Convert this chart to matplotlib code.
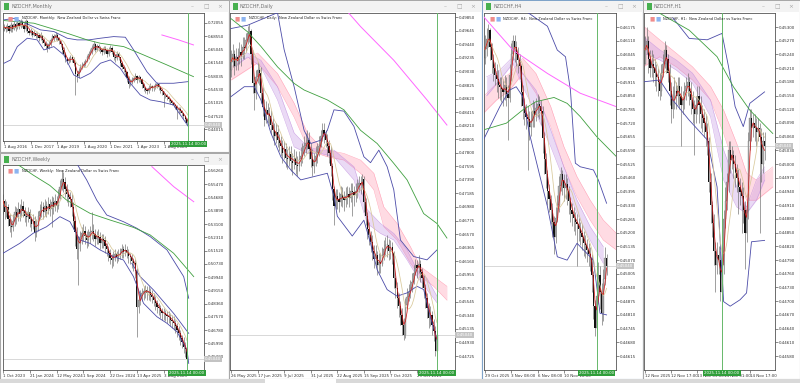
import numpy as np
import pandas as pd
import matplotlib
matplotlib.use("Agg")
import matplotlib.pyplot as plt
from matplotlib.patches import Rectangle
import matplotlib.transforms as mtrans

# ====================== DATA ======================
cur_price = 0.45040
cur_label = "0.45040"
sync_label = "2025.11.14 00:00"

# ---- Monthly ----
m_close = [0.710,0.705,0.712,0.700,0.715,0.705,0.718,0.708,0.720,0.712,
           0.722,0.715,0.705,0.725,0.700,0.695,0.700,0.690,0.695,0.685,
           0.690,0.680,0.688,0.675,0.668,0.660,0.655,0.665,0.675,0.685,
           0.680,0.690,0.680,0.672,0.665,0.650,0.640,0.625,0.620,0.622,
           0.630,0.625,0.615,0.585,0.580,0.595,0.605,0.610,0.612,0.620,
           0.630,0.640,0.645,0.655,0.665,0.650,0.660,0.655,0.650,0.645,
           0.655,0.650,0.640,0.650,0.655,0.645,0.630,0.628,0.640,0.630,
           0.615,0.605,0.600,0.590,0.575,0.560,0.565,0.570,0.575,0.580,
           0.570,0.578,0.572,0.560,0.548,0.545,0.540,0.550,0.555,0.548,
           0.552,0.556,0.560,0.552,0.545,0.540,0.530,0.530,0.525,0.520,
           0.515,0.510,0.505,0.502,0.490,0.495,0.488,0.482,0.475,0.468,
           0.458,0.4505]
m_high = [0.718,0.716,0.720,0.714,0.722,0.718,0.726,0.722,0.728,0.724,
          0.730,0.728,0.720,0.730,0.728,0.705,0.708,0.702,0.703,0.698,
          0.698,0.694,0.696,0.690,0.680,0.672,0.668,0.672,0.682,0.692,
          0.692,0.698,0.694,0.684,0.676,0.668,0.656,0.645,0.630,0.630,
          0.637,0.636,0.630,0.620,0.595,0.602,0.612,0.618,0.620,0.626,
          0.636,0.646,0.652,0.662,0.672,0.668,0.666,0.664,0.660,0.654,
          0.660,0.660,0.654,0.656,0.662,0.660,0.650,0.638,0.646,0.644,
          0.632,0.620,0.610,0.604,0.594,0.580,0.572,0.578,0.582,0.588,
          0.584,0.584,0.580,0.575,0.562,0.552,0.548,0.556,0.562,0.558,
          0.558,0.562,0.566,0.562,0.554,0.548,0.542,0.536,0.534,0.528,
          0.522,0.518,0.512,0.508,0.505,0.500,0.498,0.490,0.484,0.477,
          0.470,0.460]
m_low = [0.700,0.698,0.700,0.694,0.698,0.698,0.702,0.700,0.704,0.705,
         0.708,0.710,0.698,0.700,0.694,0.688,0.690,0.684,0.686,0.680,
         0.680,0.674,0.676,0.668,0.660,0.652,0.645,0.652,0.660,0.670,
         0.672,0.676,0.674,0.664,0.656,0.642,0.634,0.618,0.612,0.614,
         0.618,0.618,0.606,0.530,0.566,0.576,0.592,0.600,0.604,0.608,
         0.618,0.626,0.636,0.640,0.650,0.644,0.646,0.646,0.642,0.636,
         0.640,0.642,0.632,0.634,0.644,0.638,0.622,0.618,0.622,0.622,
         0.606,0.598,0.592,0.582,0.566,0.550,0.554,0.560,0.566,0.570,
         0.562,0.566,0.564,0.550,0.540,0.536,0.532,0.536,0.544,0.540,
         0.542,0.546,0.550,0.544,0.536,0.530,0.500,0.522,0.518,0.512,
         0.508,0.504,0.498,0.494,0.468,0.482,0.482,0.476,0.468,0.460,
         0.452,0.447]
m_open0 = 0.703
m_yticks = [0.72055,0.68550,0.65045,0.61540,0.58035,0.54530,0.51025,0.47520,0.44015]
m_xlabels = ["1 Aug 2016","1 Dec 2017","1 Apr 2019","1 Aug 2020","1 Dec 2021","1 Apr 2023","1 Aug 2024"]
m_xlabel_bars = [0,16,32,48,64,80,96]
m_green_x = [0,18,38,50,58,72,84,98,114]
m_green_y = [0.7270,0.7200,0.6935,0.6760,0.6671,0.6583,0.6363,0.6100,0.5791]
m_mag_x = [95,105,114]
m_mag_y = [0.689,0.676,0.6627]
m_bbu_x = [0,6,14,22,30,38,44,51,58,66,73,78,86,92,102,111]
m_bbu_y = [0.7288,0.733,0.718,0.7024,0.698,0.6804,0.676,0.676,0.6804,0.6847,0.683,0.6495,0.592,0.5616,0.5616,0.566]
m_bbl_x = [0,4,8,14,20,24,30,36,42,46,52,58,64,70,76,82,88,94,102,111]
m_bbl_y = [0.6144,0.6231,0.6583,0.6804,0.676,0.6495,0.6583,0.6363,0.5835,0.5747,0.588,0.6144,0.6231,0.601,0.5616,0.5307,0.5175,0.5131,0.5043,0.447]

# ---- Weekly ----
w_close = [0.545,0.538,0.541,0.534,0.530,0.529,0.533,0.538,0.535,0.540,
           0.537,0.542,0.539,0.536,0.535,0.538,0.534,0.531,0.533,0.5255,
           0.530,0.536,0.539,0.541,0.538,0.542,0.539,0.543,0.540,0.544,
           0.541,0.545,0.542,0.548,0.553,0.558,0.556,0.552,0.549,0.547,
           0.546,0.541,0.533,0.526,0.516,0.520,0.523,0.5255,0.527,0.524,
           0.5215,0.524,0.526,0.527,0.525,0.522,0.524,0.5235,0.520,0.522,
           0.5215,0.518,0.516,0.5136,0.511,0.5096,0.512,0.513,0.5116,0.513,
           0.514,0.516,0.5146,0.5156,0.514,0.512,0.5116,0.509,0.5076,0.503,
           0.4818,0.486,0.488,0.4898,0.491,0.492,0.490,0.4908,0.489,0.4878,
           0.486,0.484,0.4818,0.481,0.479,0.4778,0.478,0.477,0.476,0.4758,
           0.474,0.473,0.4719,0.470,0.4679,0.466,0.463,0.4609,0.4579,0.4565,
           0.4505]
w_high = [0.549,0.546,0.545,0.543,0.537,0.534,0.537,0.542,0.541,0.544,
          0.543,0.546,0.545,0.541,0.539,0.541,0.540,0.536,0.537,0.536,
          0.534,0.539,0.543,0.545,0.544,0.546,0.545,0.547,0.546,0.548,
          0.547,0.549,0.548,0.552,0.557,0.563,0.562,0.559,0.555,0.552,
          0.550,0.549,0.544,0.536,0.529,0.524,0.527,0.529,0.531,0.530,
          0.527,0.528,0.530,0.538,0.531,0.528,0.527,0.528,0.526,0.525,
          0.525,0.524,0.520,0.518,0.516,0.513,0.515,0.516,0.515,0.516,
          0.517,0.519,0.518,0.519,0.518,0.516,0.514,0.513,0.511,0.510,
          0.505,0.490,0.492,0.493,0.494,0.495,0.494,0.494,0.493,0.492,
          0.490,0.488,0.486,0.484,0.483,0.481,0.481,0.480,0.479,0.479,
          0.478,0.477,0.476,0.474,0.472,0.470,0.468,0.465,0.464,0.461,
          0.459]
w_low = [0.537,0.534,0.535,0.530,0.526,0.523,0.527,0.530,0.531,0.533,
         0.533,0.535,0.535,0.532,0.530,0.532,0.529,0.527,0.528,0.521,
         0.523,0.527,0.534,0.535,0.534,0.536,0.535,0.537,0.536,0.529,
         0.537,0.539,0.538,0.540,0.546,0.551,0.550,0.547,0.544,0.542,
         0.541,0.536,0.528,0.518,0.510,0.495,0.515,0.519,0.521,0.519,
         0.517,0.518,0.520,0.522,0.521,0.518,0.519,0.519,0.516,0.517,
         0.517,0.514,0.512,0.509,0.507,0.505,0.506,0.509,0.508,0.509,
         0.510,0.511,0.511,0.512,0.511,0.508,0.507,0.505,0.503,0.499,
         0.464,0.478,0.483,0.485,0.486,0.487,0.486,0.486,0.485,0.484,
         0.482,0.480,0.478,0.477,0.475,0.474,0.474,0.473,0.472,0.472,
         0.470,0.469,0.468,0.466,0.464,0.462,0.459,0.457,0.454,0.452,
         0.4470]
w_open0 = 0.542
w_yticks = [0.56260,0.55470,0.54680,0.53890,0.53100,0.52310,0.51520,0.50730,
            0.49940,0.49150,0.48360,0.47570,0.46780,0.45990,0.45200]
w_xlabels = ["1 Oct 2023","21 Jan 2024","12 May 2024","1 Sep 2024","22 Dec 2024","13 Apr 2025","3 Aug 2025"]
w_xlabel_bars = [0,16,32,48,64,80,96]
w_green_x = [2,18,28,38,52,64,78,88,102,114]
w_green_y = [0.5711,0.5602,0.554,0.5453,0.5374,0.5334,0.529,0.5245,0.5136,0.4997]
w_mag_x = [89,102,114]
w_mag_y = [0.5652,0.5533,0.5443]
w_bbu_x = [36,44,50,56,62,72,80,88,98,108,111]
w_bbu_y = [0.5751,0.5672,0.5573,0.5453,0.5364,0.5324,0.5285,0.5235,0.5156,0.4997,0.4868]
w_bbm_x = [77,82,90,102,111]
w_bbm_y = [0.5076,0.4997,0.4917,0.4778,0.4659]
w_bbl_x = [0,10,18,26,34,40,46,52,58,66,72,78,84,92,98,104,110,111]
w_bbl_y = [0.5136,0.5195,0.5255,0.5294,0.5354,0.5324,0.5215,0.5195,0.5156,0.5116,0.5096,0.4997,0.4838,0.4758,0.4719,0.4669,0.4560,0.4480]

# ---- Daily ----
d_close = [0.4918,0.4930,0.4912,0.4925,0.4920,0.4933,0.4928,0.4940,0.4938,0.4950,
           0.4962,0.4965,0.4930,0.4885,0.4870,0.4895,0.4905,0.4900,0.4870,0.4850,
           0.4830,0.4845,0.4838,0.4835,0.4822,0.4815,0.4805,0.4812,0.4800,0.4795,
           0.4790,0.4780,0.4785,0.4772,0.4770,0.4778,0.4768,0.4765,0.4772,0.4762,
           0.4760,0.4770,0.4775,0.4780,0.4790,0.4795,0.4800,0.4785,0.4770,0.4760,
           0.4768,0.4775,0.4780,0.4790,0.4805,0.4815,0.4808,0.4800,0.4790,0.4780,
           0.4760,0.4725,0.4700,0.4715,0.4710,0.4705,0.4718,0.4712,0.4708,0.4715,
           0.4718,0.4712,0.4722,0.4720,0.4716,0.4722,0.4728,0.4735,0.4732,0.4740,
           0.4705,0.4685,0.4665,0.4655,0.4645,0.4632,0.4620,0.4625,0.4610,0.4615,
           0.4612,0.4625,0.4635,0.4640,0.4640,0.4632,0.4638,0.4628,0.4590,0.4575,
           0.4560,0.4548,0.4535,0.4520,0.4505,0.4550,0.4562,0.4570,0.4575,0.4585,
           0.4598,0.4610,0.4605,0.4612,0.4600,0.4590,0.4575,0.4560,0.4545,0.4530,
           0.4535,0.4520,0.4510,0.4480,0.4504]
d_high = [0.4935,0.4945,0.4935,0.4938,0.4938,0.4948,0.4945,0.4955,0.4955,0.4962,
          0.4972,0.4975,0.4968,0.4935,0.4895,0.4905,0.4918,0.4915,0.4910,0.4880,
          0.4862,0.4858,0.4855,0.4850,0.4845,0.4832,0.4825,0.4825,0.4822,0.4808,
          0.4805,0.4800,0.4798,0.4795,0.4785,0.4790,0.4790,0.4780,0.4785,0.4782,
          0.4775,0.4782,0.4788,0.4795,0.4805,0.4810,0.4815,0.4812,0.4795,0.4785,
          0.4780,0.4790,0.4795,0.4805,0.4815,0.4825,0.4825,0.4815,0.4808,0.4800,
          0.4790,0.4765,0.4730,0.4725,0.4725,0.4720,0.4730,0.4728,0.4722,0.4728,
          0.4730,0.4728,0.4735,0.4735,0.4730,0.4735,0.4740,0.4745,0.4745,0.4748,
          0.4745,0.4712,0.4690,0.4675,0.4662,0.4655,0.4640,0.4640,0.4632,0.4628,
          0.4628,0.4638,0.4648,0.4652,0.4655,0.4650,0.4648,0.4645,0.4632,0.4598,
          0.4585,0.4568,0.4555,0.4545,0.4530,0.4560,0.4575,0.4582,0.4588,0.4598,
          0.4610,0.4620,0.4618,0.4625,0.4618,0.4605,0.4595,0.4582,0.4568,0.4552,
          0.4548,0.4540,0.4528,0.4518,0.4512]
d_low = [0.4895,0.4910,0.4898,0.4905,0.4905,0.4915,0.4912,0.4922,0.4922,0.4932,
         0.4945,0.4948,0.4915,0.4870,0.4844,0.4862,0.4885,0.4882,0.4855,0.4835,
         0.4820,0.4825,0.4825,0.4820,0.4808,0.4800,0.4792,0.4795,0.4788,0.4782,
         0.4775,0.4765,0.4770,0.4758,0.4755,0.4760,0.4752,0.4747,0.4755,0.4748,
         0.4745,0.4752,0.4760,0.4765,0.4775,0.4780,0.4785,0.4770,0.4758,0.4745,
         0.4750,0.4760,0.4765,0.4775,0.4788,0.4798,0.4795,0.4788,0.4775,0.4765,
         0.4745,0.4708,0.4670,0.4695,0.4695,0.4690,0.4700,0.4698,0.4692,0.4698,
         0.4702,0.4698,0.4705,0.4685,0.4700,0.4705,0.4712,0.4720,0.4718,0.4725,
         0.4690,0.4670,0.4650,0.4640,0.4630,0.4618,0.4605,0.4608,0.4595,0.4598,
         0.4598,0.4608,0.4618,0.4625,0.4622,0.4618,0.4620,0.4612,0.4575,0.4560,
         0.4545,0.4532,0.4520,0.4505,0.4497,0.4500,0.4545,0.4555,0.4560,0.4570,
         0.4582,0.4595,0.4590,0.4598,0.4585,0.4575,0.4560,0.4545,0.4530,0.4515,
         0.4518,0.4505,0.4495,0.4472,0.4478]
d_open0 = 0.4905
d_yticks = [0.49850,0.49645,0.49440,0.49235,0.49030,0.48825,0.48620,0.48415,0.48210,
            0.48005,0.47800,0.47595,0.47390,0.47185,0.46980,0.46775,0.46570,0.46365,
            0.46160,0.45955,0.45750,0.45545,0.45340,0.45135,0.44930,0.44725]
d_xlabels = ["26 May 2025","17 Jun 2025","9 Jul 2025","31 Jul 2025","22 Aug 2025","15 Sep 2025","7 Oct 2025","29 Oct 2025"]
d_xlabel_bars = [0,16,32,48,64,80,96,112]
d_green_x = [0,10,18,28,38,44,58,68,78,88,98,106,116,124,130]
d_green_y = [0.4983,0.4963,0.4941,0.4910,0.4885,0.4875,0.4860,0.4845,0.4814,0.4794,0.4764,0.4739,0.4688,0.4673,0.4651]
d_mag_x = [64,78,98,118,130]
d_mag_y = [0.5011,0.4971,0.4920,0.4860,0.4822]
d_bbu_x = [0,10,28,32,38,44,48,54,58,62,68,74,80,84,89,94,98,102,110,118,124]
d_bbu_y = [0.4968,0.4973,0.4992,0.4936,0.4880,0.4814,0.4794,0.4799,0.4814,0.4845,0.4843,0.4820,0.4774,0.4765,0.4784,0.4759,0.4724,0.4648,0.4623,0.4618,0.4633]
d_bbl_x = [0,8,14,18,24,30,36,42,50,58,62,64,73,80,84,88,94,100,106,112,116,120,124]
d_bbl_y = [0.4865,0.4880,0.4880,0.4860,0.4810,0.4774,0.4754,0.4739,0.4744,0.4749,0.4714,0.4684,0.4654,0.4678,0.4643,0.4603,0.4573,0.4563,0.4568,0.4578,0.4573,0.4532,0.4497]
d_pink_x = [0,16,28,38,46,52,58,68,78,86,92,100,108,114,122,130]
d_pink_top = [0.4910,0.4931,0.4900,0.4855,0.4810,0.4794,0.4784,0.4779,0.4769,0.4749,0.4698,0.4673,0.4638,0.4608,0.4593,0.4578]
d_pink_bot = [0.4890,0.4916,0.4880,0.4834,0.4789,0.4779,0.4774,0.4769,0.4749,0.4724,0.4668,0.4648,0.4613,0.4593,0.4578,0.4557]
d_purp_x = [2,10,18,28,38,46,54,62,74,82,90,98,106,112,118,124]
d_purp_top = [0.4925,0.4931,0.4920,0.4880,0.4810,0.4789,0.4784,0.4784,0.4759,0.4694,0.4673,0.4658,0.4633,0.4603,0.4590,0.4563]
d_purp_bot = [0.4910,0.4925,0.4910,0.4860,0.4789,0.4779,0.4779,0.4774,0.4739,0.4673,0.4658,0.4648,0.4618,0.4593,0.4573,0.4553]

# ---- H4 ----
h4_close = [0.4607,0.4612,0.4616,0.4608,0.4602,0.4598,0.4595,0.4593,0.4590,0.4589,
            0.4588,0.4587,0.4590,0.4586,0.4584,0.4595,0.4605,0.4611,0.4608,0.4605,
            0.4602,0.4599,0.4587,0.4580,0.4577,0.4575,0.4574,0.4570,0.4573,0.4578,
            0.4576,0.4579,0.4581,0.4580,0.4578,0.4565,0.4555,0.4548,0.4540,0.4536,
            0.4531,0.4525,0.4518,0.4527,0.4533,0.4542,0.4548,0.4545,0.4541,0.4543,
            0.4540,0.4535,0.4531,0.4529,0.4527,0.4525,0.4524,0.4522,0.4520,0.4518,
            0.4515,0.4514,0.4512,0.4510,0.4508,0.4500,0.4485,0.4475,0.4490,0.4500,
            0.4492,0.4482,0.4498,0.4508,0.4504]
h4_high = [0.4614,0.4617,0.4619,0.4617,0.4610,0.4605,0.4601,0.4600,0.4597,0.4594,
           0.4594,0.4593,0.4595,0.4594,0.4590,0.4600,0.4610,0.4614,0.4614,0.4611,
           0.4608,0.4605,0.4600,0.4590,0.4584,0.4581,0.4580,0.4578,0.4578,0.4583,
           0.4582,0.4584,0.4586,0.4585,0.4583,0.4580,0.4568,0.4558,0.4550,0.4543,
           0.4538,0.4534,0.4528,0.4532,0.4538,0.4547,0.4551,0.4550,0.4548,0.4548,
           0.4546,0.4542,0.4537,0.4534,0.4532,0.4530,0.4529,0.4527,0.4525,0.4524,
           0.4521,0.4519,0.4517,0.4515,0.4513,0.4510,0.4502,0.4488,0.4497,0.4506,
           0.4504,0.4496,0.4503,0.4513,0.4510]
h4_low = [0.4600,0.4604,0.4608,0.4602,0.4596,0.4592,0.4590,0.4587,0.4584,0.4583,
          0.4582,0.4580,0.4583,0.4580,0.4564,0.4582,0.4592,0.4602,0.4601,0.4599,
          0.4596,0.4593,0.4580,0.4574,0.4571,0.4569,0.4550,0.4564,0.4566,0.4570,
          0.4570,0.4573,0.4575,0.4574,0.4571,0.4558,0.4548,0.4541,0.4533,0.4530,
          0.4524,0.4518,0.4510,0.4515,0.4525,0.4530,0.4540,0.4538,0.4535,0.4536,
          0.4533,0.4529,0.4525,0.4523,0.4521,0.4519,0.4504,0.4516,0.4514,0.4512,
          0.4509,0.4508,0.4506,0.4504,0.4502,0.4492,0.4479,0.4471,0.4474,0.4486,
          0.4484,0.4476,0.4478,0.4495,0.4500]
h4_open0 = 0.4603
h4_yticks = [0.46175,0.46110,0.46045,0.45980,0.45915,0.45850,0.45785,0.45720,0.45655,
             0.45590,0.45525,0.45460,0.45395,0.45330,0.45265,0.45200,0.45135,0.45070,
             0.45005,0.44940,0.44875,0.44810,0.44745,0.44680,0.44615]
h4_xlabels = ["29 Oct 2025","3 Nov 08:00","6 Nov 08:00","10 Nov 16:00"]
h4_xlabel_bars = [0,16,32,48]
h4_mag_x = [-1,17,38,58,80]
h4_mag_y = [0.46227,0.46067,0.45956,0.45862,0.45798]
h4_green_x = [-1,13,23,31,42,50,58,68,80]
h4_green_y = [0.45688,0.4572,0.45783,0.45822,0.45842,0.45814,0.45751,0.45656,0.45561]
h4_bbu_x = [23,27,38,44,49,52,55,58,66,69,74]
h4_bbu_y = [0.4626,0.4624,0.4618,0.46067,0.46035,0.45877,0.4553,0.45513,0.45498,0.4545,0.4534]
h4_bbl_x = [-1,3,9,15,19,23,27,33,38,44,50,56,62,66,70,74]
h4_bbl_y = [0.4564,0.45703,0.45798,0.45877,0.45893,0.45846,0.45672,0.45482,0.45324,0.45086,0.4507,0.4515,0.45102,0.4507,0.44818,0.4481]
h4_pink_x = [-1,7,15,23,31,40,48,56,64,72,80]
h4_pink_top = [0.45846,0.45909,0.45956,0.46028,0.45956,0.45799,0.45609,0.45466,0.45355,0.4526,0.45197]
h4_pink_bot = [0.45767,0.4583,0.45877,0.45956,0.45862,0.45704,0.45513,0.45371,0.4526,0.45165,0.45118]
h4_purp_x = [1,9,17,23,31,40,48,56,64,72]
h4_purp_top = [0.4594,0.45972,0.46035,0.45956,0.45877,0.45688,0.45513,0.45355,0.45229,0.45134]
h4_purp_bot = [0.4585,0.45925,0.46004,0.45893,0.45767,0.45609,0.4545,0.45292,0.45165,0.45055]

# ---- H1 ----
h1_close = [0.4525,0.4527,0.4523,0.4521,0.4522,0.4521,0.4520,0.4519,0.4518,0.4516,
            0.4520,0.4522,0.4525,0.4523,0.4520,0.4516,0.4512,0.4514,0.4516,0.4515,
            0.4517,0.4515,0.4513,0.4514,0.4516,0.4517,0.4518,0.4516,0.4514,0.4512,
            0.4511,0.4513,0.4515,0.4513,0.4511,0.4510,0.4509,0.4507,0.4505,0.4496,
            0.4491,0.4487,0.4481,0.4478,0.4480,0.4479,0.4472,0.4478,0.4488,0.4492,
            0.4496,0.4503,0.4501,0.4502,0.4500,0.4498,0.4497,0.4495,0.4494,0.4493,
            0.4490,0.4485,0.4490,0.4505,0.4510,0.4508,0.4509,0.4508,0.4507,0.4508,
            0.4506,0.4500,0.4505,0.4504]
h1_high = [0.4528,0.4530,0.4528,0.4525,0.4525,0.4524,0.4523,0.4522,0.4521,0.4520,
           0.4522,0.4524,0.4527,0.4526,0.4524,0.4522,0.4518,0.4517,0.4519,0.4518,
           0.4519,0.4519,0.4517,0.4516,0.4518,0.4519,0.4520,0.4519,0.4518,0.4516,
           0.4514,0.4515,0.4517,0.4517,0.4515,0.4513,0.4512,0.4511,0.4509,0.4506,
           0.4498,0.4492,0.4489,0.4483,0.4483,0.4482,0.4481,0.4480,0.4490,0.4495,
           0.4498,0.4505,0.4505,0.4504,0.4503,0.4502,0.4500,0.4499,0.4497,0.4496,
           0.4495,0.4492,0.4492,0.4507,0.4512,0.4512,0.4511,0.4511,0.4510,0.4510,
           0.4509,0.4508,0.4507,0.4507]
h1_low = [0.4522,0.4524,0.4520,0.4519,0.4519,0.4518,0.4517,0.4516,0.4515,0.4514,
          0.4515,0.4519,0.4521,0.4520,0.4518,0.4513,0.4509,0.4510,0.4512,0.4512,
          0.4513,0.4512,0.4504,0.4511,0.4512,0.4514,0.4515,0.4513,0.4511,0.4509,
          0.4502,0.4509,0.4511,0.4509,0.4508,0.4507,0.4506,0.4504,0.4502,0.4494,
          0.4487,0.4484,0.4478,0.4472,0.4476,0.4476,0.4470,0.4471,0.4476,0.4486,
          0.4490,0.4494,0.4498,0.4499,0.4497,0.4495,0.4494,0.4489,0.4491,0.4485,
          0.4487,0.4477,0.4483,0.4488,0.4503,0.4505,0.4506,0.4505,0.4504,0.4505,
          0.4485,0.4496,0.4498,0.4501]
h1_open0 = 0.4522
h1_yticks = [0.45300,0.45270,0.45240,0.45210,0.45180,0.45150,0.45120,0.45090,0.45060,
             0.45030,0.45000,0.44970,0.44940,0.44910,0.44880,0.44850,0.44820,0.44790,
             0.44760,0.44730,0.44700,0.44670,0.44640,0.44610,0.44580]
h1_xlabels = ["12 Nov 2025","12 Nov 17:00","13 Nov 09:00","14 Nov 01:00","14 Nov 17:00"]
h1_xlabel_bars = [0,16,32,48,64]
h1_green_x = [9,27,44,54,64,78]
h1_green_y = [0.4533,0.45293,0.45235,0.45169,0.45118,0.45067]
h1_bbu_x = [17,27,38,47,51,55,60,64,73]
h1_bbu_y = [0.4532,0.45275,0.45272,0.45286,0.45213,0.45126,0.45082,0.45133,0.45158]
h1_bbl_x = [-1,9,17,27,38,44,48,52,58,62,65,73]
h1_bbl_y = [0.4518,0.45184,0.4514,0.45096,0.45053,0.4495,0.44699,0.44689,0.44703,0.44718,0.4483,0.44833]
h1_pink_x = [-1,9,19,29,40,48,56,62,68,78]
h1_pink_top = [0.45302,0.45272,0.45243,0.45213,0.4517,0.45118,0.45045,0.4498,0.44965,0.44994]
h1_pink_bot = [0.45213,0.45235,0.45213,0.45184,0.4514,0.45067,0.4498,0.44921,0.44921,0.4495]
h1_purp_x = [-1,9,19,29,40,48,56,62,68,73]
h1_purp_top = [0.45279,0.4525,0.45228,0.45199,0.4514,0.45031,0.4495,0.44906,0.44965,0.44994]
h1_purp_bot = [0.45243,0.45228,0.45206,0.45177,0.45104,0.44965,0.44906,0.44892,0.44921,0.44965]

# ====================== DRAWING ======================
W, H = 800, 383
fig = plt.figure(figsize=(W / 100, H / 100), dpi=100)
fig.patch.set_facecolor("#e6e9ed")

def rect(x0, y0, x1, y1, fc, ec="none", lw=0.0, z=-5):
    r = Rectangle((x0 / W, 1 - y1 / H), (x1 - x0) / W, (y1 - y0) / H,
                  transform=fig.transFigure, facecolor=fc, edgecolor=ec, lw=lw, zorder=z)
    fig.add_artist(r)

def window(x0, y0, x1, y1, title, active=False):
    rect(x0, y0, x1, y1, "white", "#7fa3c8" if active else "#a8a8a8", 0.8)
    rect(x0 + 0.6, y0 + 0.6, x1 - 0.6, y0 + 12, "#f3f3f3")
    rect(x0 + 3.5, y0 + 3, x0 + 9, y0 + 10, "#47b04f", z=-4)
    fig.text((x0 + 11) / W, 1 - (y0 + 6.5) / H, title, fontsize=3.4, color="#707070",
             va="center", ha="left")
    for dx, g in ((-37, "–"), (-23, "□"), (-9, "×")):
        fig.text((x1 + dx) / W, 1 - (y0 + 6.5) / H, g, fontsize=4.2, color="#a5a5a5",
                 va="center", ha="center")

def panel(box, ticks, tick_px, x0px, spx, close, high, low, open0,
          xbars, xlabels, green_bar, header, lines=(), ribbons=(), fast=3, slow=9):
    L, T, R, B = box
    ax = fig.add_axes([L / W, 1 - B / H, (R - L) / W, (B - T) / H])
    ax.set_facecolor("white")
    k = (tick_px[1] - tick_px[0]) / (ticks[0] - ticks[-1])
    ax.set_ylim(ticks[-1] - (B - tick_px[1]) / k, ticks[0] + (tick_px[0] - T) / k)
    ax.set_xlim((L - x0px) / spx, (R - x0px) / spx)

    n = min(len(close), len(high), len(low))
    c = np.asarray(close[:n], float)
    hi = np.asarray(high[:n], float)
    lo = np.asarray(low[:n], float)
    o = np.r_[open0, c[:-1]]
    hi = np.maximum(hi, np.maximum(o, c))
    lo = np.minimum(lo, np.minimum(o, c))
    x = np.arange(n)
    rng = ax.get_ylim()[1] - ax.get_ylim()[0]
    minh = rng * 0.003

    # ribbons (MA fans)
    for xs, top, bot, col in ribbons:
        ax.fill_between(xs, bot, top, color=col, alpha=0.32, lw=0, zorder=1)
        ax.plot(xs, top, color=col, lw=0.35, alpha=0.8, zorder=1)
        ax.plot(xs, bot, color=col, lw=0.35, alpha=0.8, zorder=1)

    # current price line
    ax.axhline(cur_price, color="#d2d2d2", lw=0.6, zorder=1.5)

    # candles
    ax.vlines(x, lo, hi, color="#6a6a6a", lw=0.45, zorder=2)
    up = c >= o
    bb = np.minimum(o, c)
    bh = np.maximum(np.abs(c - o), minh)
    ax.bar(x[up], bh[up], bottom=bb[up], width=0.72, color="#a9a9a9",
           edgecolor="#6a6a6a", lw=0.2, zorder=2.2)
    ax.bar(x[~up], bh[~up], bottom=bb[~up], width=0.72, color="#111111",
           edgecolor="none", zorder=2.2)

    # indicator lines
    for xs, ys, col, lw in lines:
        ax.plot(xs, ys, color=col, lw=lw, zorder=3)
    s = pd.Series(c)
    ax.plot(x, s.rolling(slow, min_periods=1).mean(), color="#d9c99a", lw=0.55, zorder=3)
    ax.plot(x, s.rolling(fast, min_periods=1).mean(), color="#d11a1a", lw=0.55, zorder=3.2)

    # sync line
    ax.axvline(green_bar, color="#66b86a", lw=0.7, zorder=3.5)

    # axes style
    for sp in ax.spines.values():
        sp.set_color("#555555")
        sp.set_linewidth(0.6)
    ax.yaxis.tick_right()
    ax.set_yticks(ticks)
    ax.set_yticklabels([f"{t:.5f}" for t in ticks])
    ax.tick_params(axis="y", length=2, width=0.4, pad=1, labelsize=2.9,
                   colors="#333333")
    ax.set_xticks(xbars)
    ax.set_xticklabels(xlabels)
    for lab in ax.get_xticklabels():
        lab.set_ha("left")
    ax.tick_params(axis="x", length=2, width=0.4, pad=1.2, labelsize=2.9,
                   colors="#333333")

    # header
    ax.text(5.0 / (R - L), 1 - 5.5 / (B - T), "\u25a0", color="#f08c8c", fontsize=4,
            transform=ax.transAxes, va="center", ha="left", zorder=6)
    ax.text(11.0 / (R - L), 1 - 5.5 / (B - T), "\u25a0", color="#8cb4f0", fontsize=4,
            transform=ax.transAxes, va="center", ha="left", zorder=6)
    ax.text(19.0 / (R - L), 1 - 5.5 / (B - T), header, color="#222222", fontsize=2.6,
            transform=ax.transAxes, va="center", ha="left", zorder=6)

    # green time box
    tr = mtrans.blended_transform_factory(ax.transData, ax.transAxes)
    ax.text(green_bar, -0.004, sync_label, transform=tr, ha="center", va="top",
            fontsize=2.9, color="white", zorder=10, clip_on=False,
            bbox=dict(boxstyle="square,pad=0.25", fc="#2f9e3a", ec="none"))
    # price box
    tr2 = mtrans.blended_transform_factory(ax.transAxes, ax.transData)
    ax.text(1.006, cur_price, cur_label, transform=tr2, ha="left", va="center",
            fontsize=2.9, color="white", zorder=10, clip_on=False,
            bbox=dict(boxstyle="square,pad=0.25", fc="#c3c3c3", ec="none"))
    return ax

# windows
window(0, 0, 229, 152, "NZDCHF,Monthly")
window(0, 153, 229, 379, "NZDCHF,Weekly")
window(229, 0, 482, 379, "NZDCHF,Daily")
window(482, 0, 643, 379, "NZDCHF,H4", active=True)
window(643, 0, 800, 379, "NZDCHF,H1")
rect(0, 379, 800, 383, "#d9d9d9")
rect(265, 379, 336, 383, "#ffffff", z=-4)

BLUE = "#4b4ba8"
GREEN = "#3f9f3f"
MAG = "#ff66ff"
PINK = "#ff8fa8"
PURP = "#c08ee0"

panel((3, 13, 204, 141), m_yticks, (23, 129.3), 4, 1.662,
      m_close, m_high, m_low, m_open0, m_xlabel_bars, m_xlabels, 111,
      "NZDCHF, Monthly:  New Zealand Dollar vs Swiss Franc",
      lines=[(m_bbu_x, m_bbu_y, BLUE, 0.6), (m_bbl_x, m_bbl_y, BLUE, 0.6),
             (m_green_x, m_green_y, GREEN, 0.6), (m_mag_x, m_mag_y, MAG, 0.7)],
      fast=3, slow=8)

panel((3, 165, 204, 370), w_yticks, (171, 356.7), 3, 1.673,
      w_close, w_high, w_low, w_open0, w_xlabel_bars, w_xlabels, 110,
      "NZDCHF, Weekly:  New Zealand Dollar vs Swiss Franc",
      lines=[(w_bbu_x, w_bbu_y, BLUE, 0.6), (w_bbm_x, w_bbm_y, BLUE, 0.6),
             (w_bbl_x, w_bbl_y, BLUE, 0.6),
             (w_green_x, w_green_y, GREEN, 0.6), (w_mag_x, w_mag_y, MAG, 0.7)],
      fast=3, slow=8)

panel((230, 13, 455, 370), d_yticks, (17.3, 356), 231, 1.661,
      d_close, d_high, d_low, d_open0, d_xlabel_bars, d_xlabels, 124,
      "NZDCHF, Daily:  New Zealand Dollar vs Swiss Franc",
      lines=[(d_bbu_x, d_bbu_y, BLUE, 0.6), (d_bbl_x, d_bbl_y, BLUE, 0.6),
             (d_green_x, d_green_y, GREEN, 0.6), (d_mag_x, d_mag_y, MAG, 0.7)],
      ribbons=[(d_pink_x, d_pink_top, d_pink_bot, PINK),
               (d_purp_x, d_purp_top, d_purp_bot, PURP)],
      fast=3, slow=8)

panel((484, 13, 616, 370), h4_yticks, (27.3, 356), 485, 1.643,
      h4_close, h4_high, h4_low, h4_open0, h4_xlabel_bars, h4_xlabels, 68,
      "NZDCHF, H4:  New Zealand Dollar vs Swiss Franc",
      lines=[(h4_bbu_x, h4_bbu_y, BLUE, 0.6), (h4_bbl_x, h4_bbl_y, BLUE, 0.6),
             (h4_green_x, h4_green_y, GREEN, 0.6), (h4_mag_x, h4_mag_y, MAG, 0.7)],
      ribbons=[(h4_pink_x, h4_pink_top, h4_pink_bot, PINK),
               (h4_purp_x, h4_purp_top, h4_purp_bot, PURP)],
      fast=3, slow=8)

panel((644, 13, 775, 370), h1_yticks, (27, 356), 645, 1.638,
      h1_close, h1_high, h1_low, h1_open0, h1_xlabel_bars, h1_xlabels, 47,
      "NZDCHF, H1:  New Zealand Dollar vs Swiss Franc",
      lines=[(h1_bbu_x, h1_bbu_y, BLUE, 0.6), (h1_bbl_x, h1_bbl_y, BLUE, 0.6),
             (h1_green_x, h1_green_y, GREEN, 0.6)],
      ribbons=[(h1_pink_x, h1_pink_top, h1_pink_bot, PINK),
               (h1_purp_x, h1_purp_top, h1_purp_bot, PURP)],
      fast=3, slow=8)

fig.savefig("out.png", dpi=100, facecolor=fig.get_facecolor())
